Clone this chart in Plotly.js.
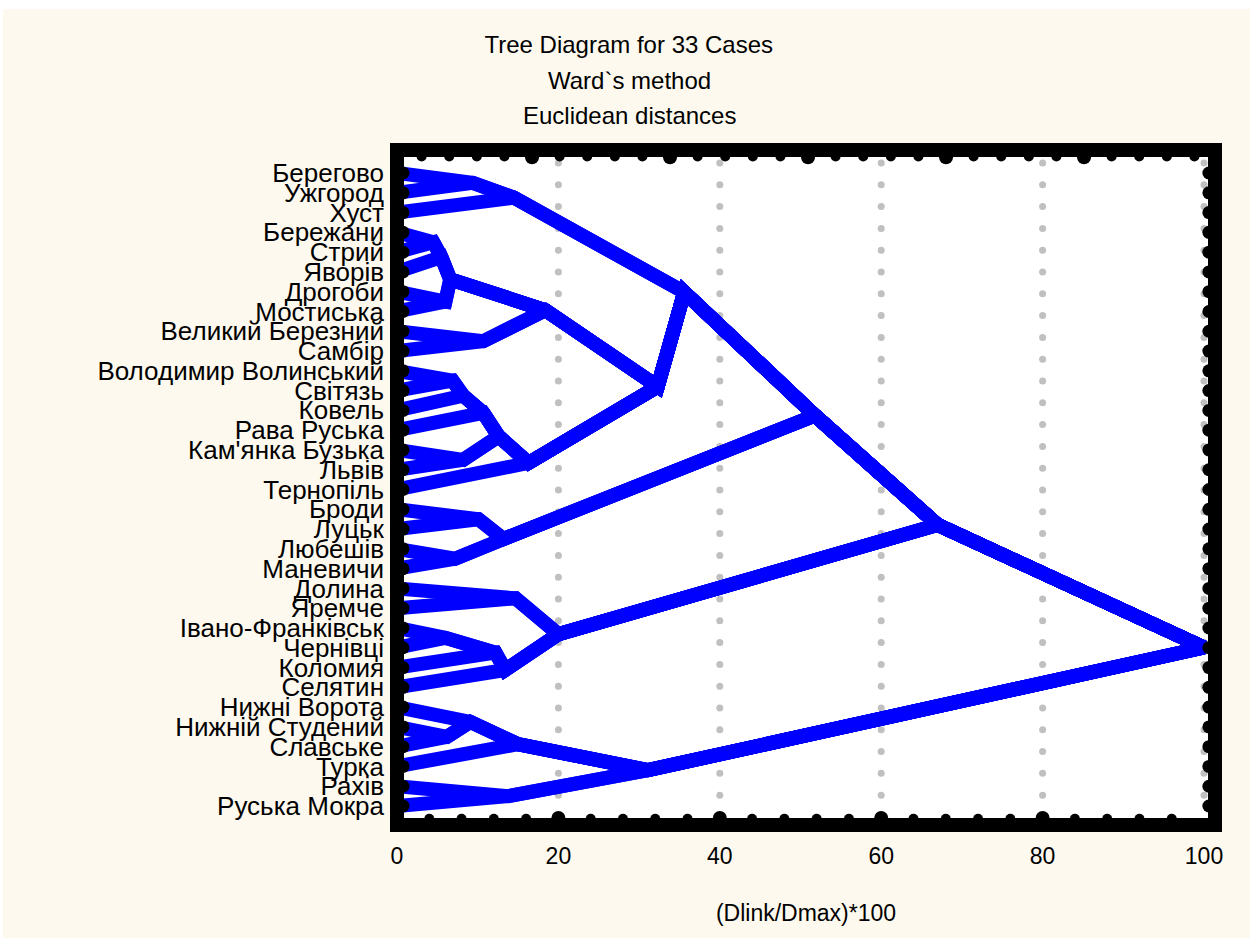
<!DOCTYPE html>
<html>
<head>
<meta charset="utf-8">
<script src="https://cdn.plot.ly/plotly-3.0.1.min.js"></script>
<style>html,body{margin:0;padding:0;background:#ffffff;}</style>
</head>
<body>
<div id="chart" style="width:1250px;height:938px;"></div>
<script>
// ---- data ----
const caseLabels = [
  "Берегово","Ужгород","Хуст","Бережани","Стрий","Яворів","Дрогоби","Мостиська",
  "Великий Березний","Самбір","Володимир Волинський","Світязь","Ковель","Рава Руська",
  "Кам'янка Бузька","Львів","Тернопіль","Броди","Луцьк","Любешів","Маневичи","Долина",
  "Яремче","Івано-Франківськ","Чернівці","Коломия","Селятин","Нижні Ворота",
  "Нижній Студений","Славське","Турка","Рахів","Руська Мокра"
];
// linkage: merge k creates node id = 33 + k
const mergeLeft   = [0, 33, 3, 35, 6, 36, 8, 38, 10, 41, 42, 14, 43, 45, 40, 34, 17, 19, 49, 48, 21, 23, 54, 55, 53, 52, 28, 27, 60, 31, 61, 58];
const mergeRight  = [1,  2, 4,  5, 7, 37, 9, 39, 11, 12, 13, 15, 44, 16, 46, 47, 18, 20, 50, 51, 22, 24, 25, 26, 56, 57, 29, 59, 30, 32, 62, 63];
const mergeHeight = [9.4, 14.5, 4.5, 5.5, 6.0, 6.6, 10.7, 18.4, 6.9, 8.2, 10.7, 8.2, 12.6, 16.3, 32.3, 35.6,
                     10.1, 7.2, 13.2, 51.8, 14.7, 6.0, 12.2, 13.4, 20.0, 67.0, 6.2, 9.1, 15.0, 13.8, 31.1, 100];
const xTickVals = [0, 20, 40, 60, 80, 100];
const xTickText = ["0", "20", "40", "60", "80", "100"];
const gridVals = [20, 40, 60, 80, 100];
const titleLines = ["Tree Diagram for 33 Cases", "Ward`s method", "Euclidean distances"];

// ---- tree geometry through the linkage ----
const nLeaves = caseLabels.length;
const nodeX = [], nodeY = [], parent = [];
for (let i = 0; i < nLeaves; i++) { nodeX.push(0); nodeY.push(i); parent.push(-1); }
mergeLeft.forEach((l, k) => {
  const r = mergeRight[k];
  const id = nLeaves + k;
  nodeX.push(mergeHeight[k]);
  nodeY.push((nodeY[l] + nodeY[r]) / 2);
  parent.push(-1);
  parent[l] = id; parent[r] = id;
});
const treeX = [], treeY = [];
for (let i = 0; i < nLeaves; i++) {
  let c = i;
  while (c !== -1) { treeX.push(nodeX[c]); treeY.push(nodeY[c]); c = parent[c]; }
  treeX.push(null); treeY.push(null);
}

// ---- frame decoration ----
const X_MAX = 101.36, Y_TOP = -1.163, Y_BOT = 32.96;
const gx = [], gy = [];
gridVals.forEach(v => { for (let k = 0; k < 30; k++) { gx.push(v); gy.push(-0.506 + 1.102 * k); } });
const rowIdx = caseLabels.map((_, i) => i);
const lx = rowIdx.map(() => 0.75), rx = rowIdx.map(() => 100.6);
const topSmallX = [], topBigX = [];
for (let k = 1; k <= 29; k++) { (k % 5 === 0 ? topBigX : topSmallX).push(-0.37 + 3.42 * k); }
const botSmallX = [], botBigX = [];
for (let v = 4; v <= 96; v += 4) { (v % 20 === 0 ? botBigX : botSmallX).push(v); }

const traces = [
  { x: gx, y: gy, mode: 'markers', type: 'scatter', hoverinfo: 'skip',
    marker: { color: '#c0c0c0', size: 7 } },
  { x: treeX, y: treeY, mode: 'lines', type: 'scatter', hoverinfo: 'skip', connectgaps: false,
    line: { color: '#0000ff', width: 14 } },
  { x: lx.concat(rx), y: rowIdx.concat(rowIdx), mode: 'markers', type: 'scatter', cliponaxis: false,
    hoverinfo: 'skip', marker: { color: '#000', size: 13 } },
  { x: topSmallX, y: topSmallX.map(() => -0.84), mode: 'markers', type: 'scatter', cliponaxis: false,
    hoverinfo: 'skip', marker: { color: '#000', size: 10 } },
  { x: topBigX, y: topBigX.map(() => -0.80), mode: 'markers', type: 'scatter', cliponaxis: false,
    hoverinfo: 'skip', marker: { color: '#000', size: 14 } },
  { x: botSmallX, y: botSmallX.map(() => 32.64), mode: 'markers', type: 'scatter', cliponaxis: false,
    hoverinfo: 'skip', marker: { color: '#000', size: 10 } },
  { x: botBigX, y: botBigX.map(() => 32.60), mode: 'markers', type: 'scatter', cliponaxis: false,
    hoverinfo: 'skip', marker: { color: '#000', size: 14 } }
];

const FONT = 'Liberation Sans, Arial, sans-serif';
const TITLE_FONT = { family: FONT, size: 24, color: '#000' };
const layout = {
  width: 1250, height: 938, autosize: false,
  margin: { l: 397, r: 35, t: 150, b: 113, pad: 0 },
  paper_bgcolor: '#fdf9ee', plot_bgcolor: '#ffffff',
  showlegend: false,
  font: { family: FONT, color: '#000' },
  title: { text: titleLines[0], font: TITLE_FONT,
           x: 0.503, xref: 'container', xanchor: 'center',
           y: 1 - 45 / 938, yref: 'container', yanchor: 'middle' },
  annotations: [
    { text: titleLines[1], font: TITLE_FONT, showarrow: false, xref: 'paper', yref: 'paper',
      x: (629 - 397) / 818, y: (825 - 80) / 675, xanchor: 'center', yanchor: 'middle' },
    { text: titleLines[2], font: TITLE_FONT, showarrow: false, xref: 'paper', yref: 'paper',
      x: (629 - 397) / 818, y: (825 - 115) / 675, xanchor: 'center', yanchor: 'middle' }
  ],
  xaxis: { range: [0, X_MAX], tickvals: xTickVals, ticktext: xTickText, ticks: '',
           showgrid: false, zeroline: false, showline: false, fixedrange: true,
           tickfont: { family: FONT, size: 23, color: '#000' }, ticklabelstandoff: 15,
           title: { text: '(Dlink/Dmax)*100', font: { family: FONT, size: 23, color: '#000' }, standoff: 36 } },
  yaxis: { range: [Y_BOT, Y_TOP], tickvals: rowIdx, ticktext: caseLabels, ticks: '',
           showgrid: false, zeroline: false, showline: false, fixedrange: true,
           tickfont: { family: FONT, size: 26, color: '#000' }, ticklabelstandoff: 12 },
  shapes: [
    { type: 'rect', xref: 'paper', yref: 'paper', x0: -0.4853, x1: 1.0428, y0: 1.2089, y1: 1.2222,
      fillcolor: '#ffffff', line: { width: 0 }, layer: 'below' },
    { type: 'rect', xref: 'paper', yref: 'paper', x0: -0.4853, x1: -0.4817, y0: -0.1674, y1: 1.2222,
      fillcolor: '#ffffff', line: { width: 0 }, layer: 'below' },
    { type: 'rect', xref: 'paper', yref: 'paper', x0: 0, x1: 1, y0: 0, y1: 1,
      line: { color: '#000', width: 14 }, fillcolor: 'rgba(0,0,0,0)', layer: 'above' }
  ]
};
Plotly.newPlot('chart', traces, layout, { displayModeBar: false, staticPlot: true });
</script>
</body>
</html>
